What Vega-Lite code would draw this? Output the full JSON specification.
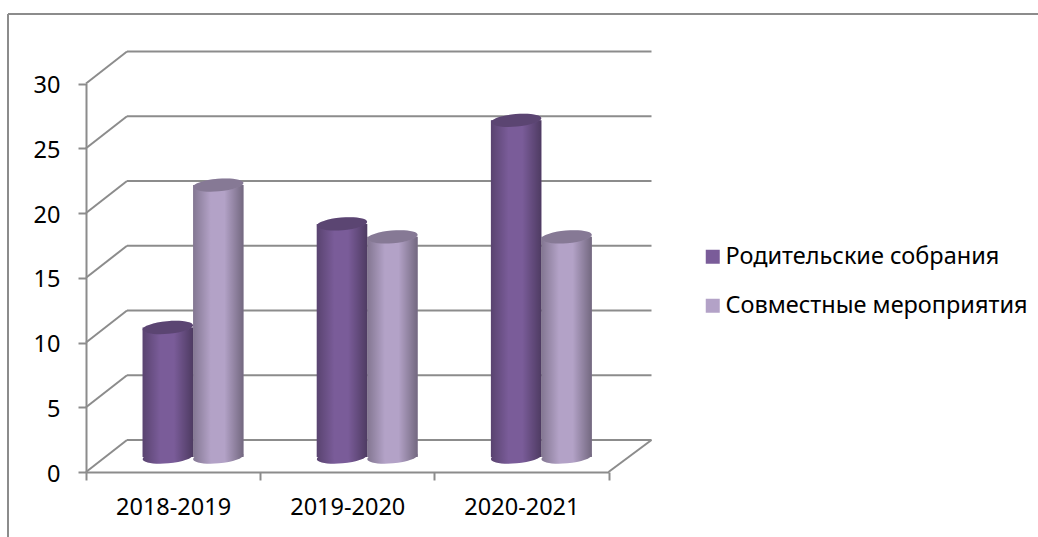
{
"$schema":"https://vega.github.io/schema/vega-lite/v6.json",
"width":1030,"height":523,
"autosize":{"type":"none"},
"padding":{"left":8,"top":14,"right":0,"bottom":0},
"background":"white",
"config":{"view":{"stroke":null},"font":"Noto Sans"},
"datasets":{
"bars":[
{"year":"2018-2019","series":"Родительские собрания","value":10},
{"year":"2018-2019","series":"Совместные мероприятия","value":21},
{"year":"2019-2020","series":"Родительские собрания","value":18},
{"year":"2019-2020","series":"Совместные мероприятия","value":17},
{"year":"2020-2021","series":"Родительские собрания","value":26},
{"year":"2020-2021","series":"Совместные мероприятия","value":17}],
"ticks":[{"tick":0},{"tick":5},{"tick":10},{"tick":15},{"tick":20},{"tick":25},{"tick":30}]
},
"layer":[
{"data":{"name":"ticks"},"mark":{"type":"rule","color":"#8c8c8c","strokeWidth":2},
 "encoding":{"x":{"value":0},"y":{"value":0},"y2":{"value":523}}},
{"data":{"name":"ticks"},"mark":{"type":"rule","color":"#8c8c8c","strokeWidth":2},
 "encoding":{"y":{"value":0},"x":{"value":0},"x2":{"value":1030}}},
{"data":{"name":"ticks"},"mark":{"type":"rule","color":"#8c8c8c","strokeWidth":2,"yOffset":-32},
 "encoding":{"y":{"field":"tick","type":"quantitative","scale":{"domain":[0,30],"range":[458,69.5],"nice":false},
   "axis":{"title":null,"orient":"left","offset":-78,"values":[0,5,10,15,20,25,30],"grid":false,"domainColor":"#8c8c8c","domainWidth":2,"tickColor":"#8c8c8c","tickWidth":2,"tickSize":8,"labelFontSize":23.5,"labelFont":"Noto Sans","labelColor":"#000000","labelPadding":18,"labelOffset":2}},
  "x":{"value":119},"x2":{"value":643.5}}},
{"data":{"name":"ticks"},"mark":{"type":"rule","color":"#8c8c8c","strokeWidth":2,"y2Offset":-32},
 "encoding":{"y":{"field":"tick","type":"quantitative"},"y2":{"field":"tick"},"x":{"value":78},"x2":{"value":119}}},
{"data":{"name":"ticks"},"transform":[{"filter":"datum.tick==0"}],"mark":{"type":"rule","color":"#8c8c8c","strokeWidth":2,"y2Offset":-32},
 "encoding":{"y":{"field":"tick","type":"quantitative"},"y2":{"field":"tick"},"x":{"value":600.5},"x2":{"value":643.5}}},
{"data":{"name":"bars"},
 "encoding":{
  "x":{"field":"year","type":"nominal","scale":{"range":[78,600.5],"paddingInner":0,"paddingOuter":0},
   "axis":{"title":null,"orient":"bottom","offset":-65,"tickBand":"extent","labelAngle":0,"domainColor":"#8c8c8c","domainWidth":2,"tickColor":"#8c8c8c","tickWidth":2,"tickSize":8,"labelFontSize":23.5,"labelFont":"Noto Sans","labelColor":"#000000","labelPadding":15}},
  "xOffset":{"field":"series","type":"nominal","scale":{"paddingInner":0,"paddingOuter":0.725,"align":0.773}}
 },
 "layer":[
  {"mark":{"type":"point","filled":true,"opacity":1,"size":2550,"shape":"M-1 0A1 0.25 0 1 1 1 0A1 0.25 0 1 1 -1 0Z","angle":-5,"yOffset":-15},
   "encoding":{"y":{"datum":0,"type":"quantitative"},"color":{"field":"series","type":"nominal"}}},
  {"mark":{"type":"point","filled":true,"opacity":1,"size":2550,"shape":"M-1 0A1 0.25 0 1 1 1 0A1 0.25 0 1 1 -1 0Z","angle":-5,"yOffset":-15,
    "fill":{"gradient":"linear","x1":0,"y1":0,"x2":1,"y2":0,"stops":[{"offset":0,"color":"rgba(0,0,0,0.27)"},{"offset":0.35,"color":"rgba(0,0,0,0)"},{"offset":0.62,"color":"rgba(0,0,0,0)"},{"offset":1,"color":"rgba(0,0,0,0.36)"}]}},
   "encoding":{"y":{"datum":0,"type":"quantitative"}}},
  {"mark":{"type":"bar","yOffset":-15,"y2Offset":-15},
   "encoding":{"y":{"field":"value","type":"quantitative"},"y2":{"datum":0},
    "color":{"field":"series","type":"nominal","scale":{"domain":["Родительские собрания","Совместные мероприятия"],"range":["#7a5c99","#b3a2c7"]},
     "legend":{"title":null,"orient":"none","legendX":693,"legendY":231,"symbolType":"square","symbolSize":196,"symbolStrokeWidth":0,"labelFontSize":23.5,"labelFont":"Noto Sans","labelColor":"#000000","labelLimit":340,"rowPadding":24,"labelOffset":1}}}},
  {"mark":{"type":"bar","yOffset":-15,"y2Offset":-15,
    "fill":{"gradient":"linear","x1":0,"y1":0,"x2":1,"y2":0,"stops":[{"offset":0,"color":"rgba(0,0,0,0.27)"},{"offset":0.35,"color":"rgba(0,0,0,0)"},{"offset":0.62,"color":"rgba(0,0,0,0)"},{"offset":1,"color":"rgba(0,0,0,0.36)"}]}},
   "encoding":{"y":{"field":"value","type":"quantitative"},"y2":{"datum":0}}},
  {"mark":{"type":"point","filled":true,"opacity":1,"size":2550,"shape":"M-1 0A1 0.25 0 1 1 1 0A1 0.25 0 1 1 -1 0Z","angle":-5,"yOffset":-15},
   "encoding":{"y":{"field":"value","type":"quantitative"},"color":{"field":"series","type":"nominal"}}},
  {"mark":{"type":"point","filled":true,"opacity":1,"size":2550,"shape":"M-1 0A1 0.25 0 1 1 1 0A1 0.25 0 1 1 -1 0Z","angle":-5,"yOffset":-15,"fill":"rgba(0,0,0,0.25)"},
   "encoding":{"y":{"field":"value","type":"quantitative"}}}
 ]}
]
}
